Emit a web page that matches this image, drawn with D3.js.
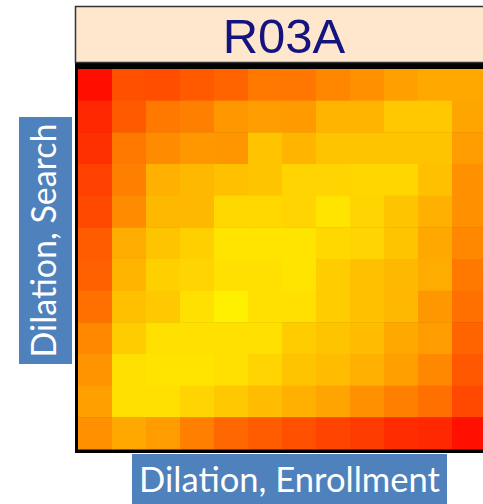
<!DOCTYPE html>
<html>
  <head>
    <meta charset="utf-8">
    <title>R03A</title>
    <style>
      body{
        margin: 0;
        background-color: #FFF;
      }
      svg{
        display: block;
      }
      text.label{
        font-family: Lato, "Open Sans", sans-serif;
        fill: #FFF;
      }
      text.title{
        font-family: "Liberation Sans", Arial, sans-serif;
        fill: #141480;
      }
    </style>
  </head>
  <body>
  <script src="https://d3js.org/d3.v7.min.js"></script>
  <script>
const width = 483;
const height = 504;

const title = 'R03A';
const xLabel = 'Dilation, Enrollment';
const yLabel = 'Dilation, Search';

// 12 dilation steps on each axis
const enrollSteps = d3.range(1, 13);
const searchSteps = d3.range(1, 13);

// score per cell, top row first (0 = red, 255 = yellow)
const row01 = [15, 80, 78, 90, 100, 120, 118, 135, 145, 160, 168, 168];
const row02 = [40, 90, 120, 128, 152, 156, 155, 180, 180, 200, 200, 165];
const row03 = [48, 120, 140, 152, 150, 195, 180, 196, 196, 196, 196, 156];
const row04 = [64, 128, 176, 184, 192, 196, 212, 212, 214, 214, 192, 144];
const row05 = [72, 140, 184, 184, 216, 216, 212, 228, 212, 196, 176, 144];
const row06 = [92, 172, 196, 208, 228, 228, 228, 216, 212, 196, 168, 136];
const row07 = [96, 180, 208, 212, 224, 224, 228, 204, 192, 184, 172, 120];
const row08 = [112, 192, 200, 224, 240, 224, 224, 204, 192, 184, 152, 112];
const row09 = [136, 204, 224, 224, 224, 224, 204, 196, 188, 168, 156, 100];
const row10 = [148, 224, 228, 228, 224, 212, 196, 188, 176, 160, 136, 88];
const row11 = [160, 224, 224, 212, 200, 188, 176, 164, 144, 128, 112, 72];
const row12 = [144, 168, 156, 128, 104, 92, 80, 68, 60, 44, 40, 16];

const rows = [row01, row02, row03, row04, row05, row06,
              row07, row08, row09, row10, row11, row12];

const cells = [];
rows.forEach((r, i) => {
  r.forEach((v, j) => {
    cells.push({ x: enrollSteps[j], y: searchSteps[i], v: v });
  });
});

const plot = { left: 78, right: 486, top: 69, bottom: 449 };

const x = d3.scaleBand().domain(enrollSteps).range([plot.left, plot.right]);
const y = d3.scaleBand().domain(searchSteps).range([plot.top, plot.bottom]);
const color = d3.scaleLinear().domain([0, 255])
  .range(['#FF0000', '#FFFF00'])
  .interpolate(d3.interpolateRgb);

const svg = d3.select('body')
  .append('svg')
  .attr('width', width)
  .attr('height', height);

// black frame behind the grid
svg.append('rect')
  .attr('x', 75)
  .attr('y', 62)
  .attr('width', 420)
  .attr('height', 391)
  .attr('fill', '#000');

svg.append('g')
  .selectAll('rect')
  .data(cells)
  .join('rect')
    .attr('x', (d) => x(d.x))
    .attr('y', (d) => y(d.y))
    .attr('width', x.bandwidth() + 0.5)
    .attr('height', y.bandwidth() + 0.5)
    .attr('fill', (d) => color(d.v));

// title strip
svg.append('rect')
  .attr('x', 75.5)
  .attr('y', 6.5)
  .attr('width', 420)
  .attr('height', 56)
  .attr('fill', '#FFE7CE')
  .attr('stroke', '#333')
  .attr('stroke-width', 1.5);

svg.append('text')
  .attr('class', 'title')
  .attr('x', 284)
  .attr('y', 53)
  .attr('text-anchor', 'middle')
  .attr('font-size', 49)
  .text(title);

// fit a label font size to a target width
function fitText(sel, target) {
  let fs = 30;
  sel.attr('font-size', fs);
  const w = sel.node().getComputedTextLength();
  fs = fs * target / w;
  sel.attr('font-size', fs);
}

// y label box
svg.append('rect')
  .attr('x', 19)
  .attr('y', 117)
  .attr('width', 53)
  .attr('height', 247)
  .attr('fill', '#4F81BD');

const yt = svg.append('text')
  .attr('class', 'label')
  .attr('transform', 'translate(56,240.5) rotate(-90)')
  .attr('text-anchor', 'middle')
  .text(yLabel);
fitText(yt, 234);

// x label box
svg.append('rect')
  .attr('x', 132)
  .attr('y', 454)
  .attr('width', 315)
  .attr('height', 50)
  .attr('fill', '#4F81BD');

const xt = svg.append('text')
  .attr('class', 'label')
  .attr('x', 289.5)
  .attr('y', 492)
  .attr('text-anchor', 'middle')
  .text(xLabel);
fitText(xt, 301);
  </script>
  </body>
</html>
